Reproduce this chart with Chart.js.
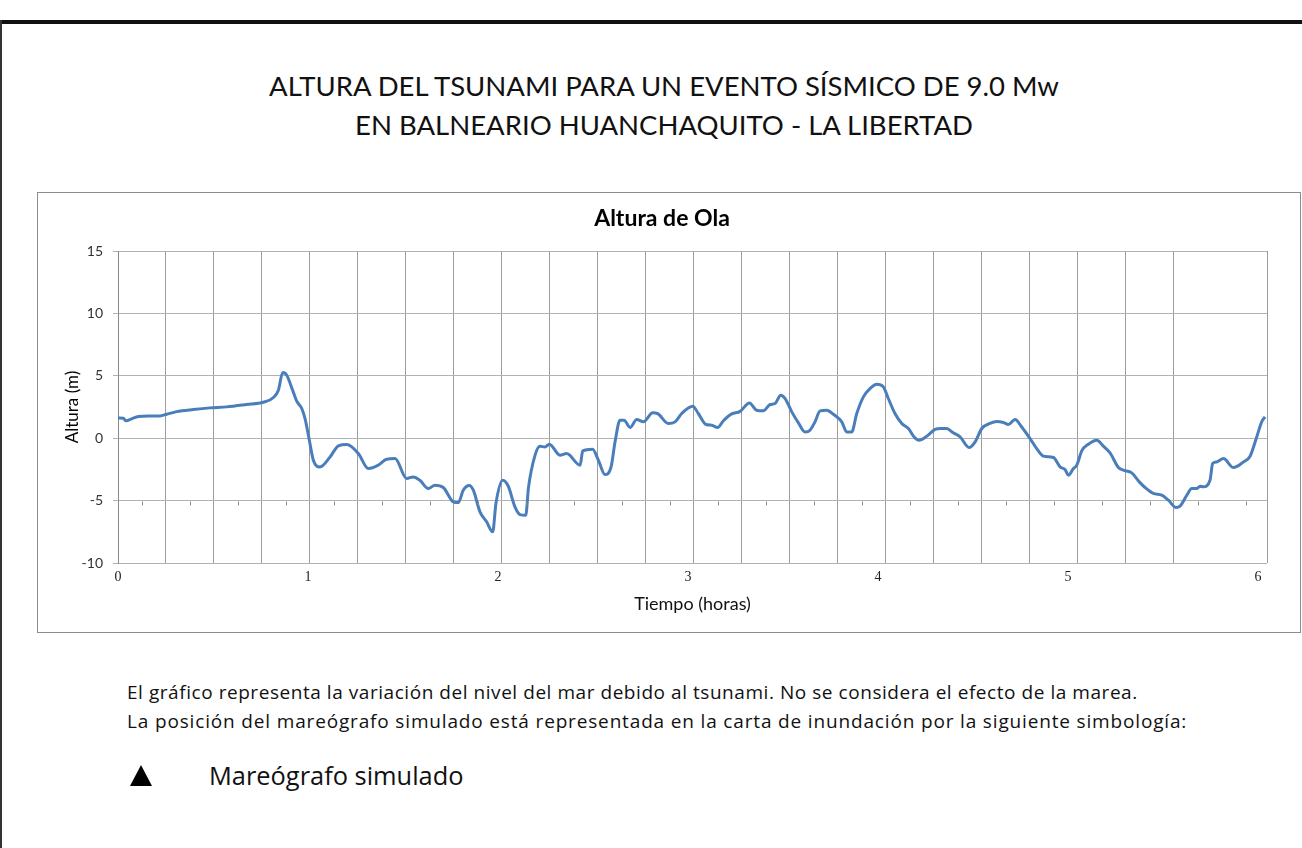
<!DOCTYPE html>
<html lang="es">
<head>
<meta charset="utf-8">
<title>Altura del tsunami - Huanchaquito</title>
<script src="https://cdn.jsdelivr.net/npm/chart.js@4.4.1/dist/chart.umd.min.js"></script>
<style>
    html, body { margin: 0; padding: 0; background: #fff; }
    body { width: 1302px; height: 848px; position: relative; overflow: hidden; font-family: Lato, "Open Sans", sans-serif; }
    .frame-top { position: absolute; left: 0; top: 20px; width: 1302px; height: 4px; background: #111; }
    .frame-left { position: absolute; left: 0; top: 20px; width: 2px; height: 828px; background: #333; }
    .heading { position: absolute; left: 164px; width: 1000px; text-align: center; font-size: 27.5px; color: #111; white-space: nowrap; }
    .chart-box { position: absolute; left: 37px; top: 192px; width: 1262px; height: 439px; border: 1px solid #8c8c8c; }
    .chart-wrap { position: absolute; left: 1px; top: 1px; width: 1246px; height: 437px; }
    .note { position: absolute; left: 127px; font-family: "Open Sans", sans-serif; font-size: 19px; letter-spacing: 0.55px; color: #111; white-space: nowrap; }
    .legend-mark { position: absolute; left: 130px; top: 765px; width: 0; height: 0;
                   border-left: 11px solid transparent; border-right: 11px solid transparent; border-bottom: 21px solid #000; }
    .legend-text { position: absolute; left: 209px; top: 758px; font-family: "Open Sans", sans-serif; font-size: 25.4px; color: #111; }
</style>
</head>
<body>
<div class="frame-top"></div>
<div class="frame-left"></div>

<div class="heading" style="top: 69px;">ALTURA DEL TSUNAMI PARA UN EVENTO SÍSMICO DE 9.0 Mw</div>
<div class="heading" style="top: 108px;">EN BALNEARIO HUANCHAQUITO - LA LIBERTAD</div>

<div class="chart-box">
    <div class="chart-wrap"><canvas id="olaChart"></canvas></div>
</div>

<div class="note" style="top: 679px;">El gráfico representa la variación del nivel del mar debido al tsunami. No se considera el efecto de la marea.</div>
<div class="note" style="top: 708px; letter-spacing: 0.84px;">La posición del mareógrafo simulado está representada en la carta de inundación por la siguiente simbología:</div>

<div class="legend-mark"></div>
<div class="legend-text">Mareógrafo simulado</div>

<script>
// --- Data (time in hours, height in metres) ---
const tiempoHoras = [
    0.000, 0.028, 0.042, 0.072, 0.107, 0.160, 0.221, 0.256, 0.309, 0.397,
    0.484, 0.572, 0.677, 0.765, 0.818, 0.844, 0.867, 0.888, 0.919, 0.940,
    0.967, 0.984, 1.007, 1.028, 1.063, 1.116, 1.160, 1.204, 1.265, 1.317,
    1.370, 1.414, 1.458, 1.519, 1.554, 1.589, 1.633, 1.668, 1.712, 1.765,
    1.791, 1.817, 1.849, 1.870, 1.905, 1.940, 1.972, 1.989, 2.025, 2.054,
    2.089, 2.116, 2.146, 2.160, 2.195, 2.221, 2.247, 2.270, 2.326, 2.361,
    2.432, 2.446, 2.498, 2.528, 2.563, 2.595, 2.616, 2.642, 2.663, 2.695,
    2.730, 2.765, 2.814, 2.839, 2.896, 2.932, 2.967, 3.025, 3.054, 3.095,
    3.125, 3.156, 3.186, 3.230, 3.274, 3.323, 3.361, 3.396, 3.432, 3.458,
    3.488, 3.511, 3.546, 3.581, 3.616, 3.642, 3.668, 3.695, 3.730, 3.765,
    3.809, 3.835, 3.861, 3.888, 3.923, 3.958, 3.993, 4.028, 4.054, 4.089,
    4.125, 4.160, 4.190, 4.215, 4.256, 4.300, 4.330, 4.361, 4.396, 4.432,
    4.479, 4.511, 4.546, 4.589, 4.625, 4.660, 4.686, 4.721, 4.756, 4.800,
    4.835, 4.870, 4.923, 4.958, 4.984, 5.002, 5.028, 5.046, 5.072, 5.107,
    5.151, 5.186, 5.221, 5.265, 5.291, 5.335, 5.375, 5.405, 5.449, 5.493,
    5.528, 5.568, 5.589, 5.625, 5.651, 5.677, 5.695, 5.712, 5.747, 5.761,
    5.782, 5.818, 5.870, 5.923, 5.958, 5.993, 6.019, 6.037
];
const alturaOla = [
    1.63, 1.60, 1.39, 1.55, 1.74, 1.78, 1.78, 1.92, 2.13, 2.30,
    2.43, 2.51, 2.70, 2.88, 3.26, 3.85, 5.26, 5.05, 3.85, 2.99,
    2.38, 1.58, -0.16, -1.76, -2.30, -1.50, -0.61, -0.51, -1.23, -2.43,
    -2.16, -1.68, -1.63, -3.23, -3.10, -3.37, -4.03, -3.77, -3.95, -5.10,
    -5.16, -4.17, -3.79, -4.17, -5.90, -6.70, -7.50, -5.23, -3.37, -3.85,
    -5.50, -6.12, -6.17, -4.00, -1.36, -0.65, -0.70, -0.48, -1.36, -1.23,
    -2.16, -1.02, -0.88, -1.76, -2.91, -2.30, -0.29, 1.44, 1.44, 0.86,
    1.50, 1.31, 2.03, 1.98, 1.18, 1.31, 1.98, 2.56, 1.98, 1.10,
    1.04, 0.86, 1.40, 1.95, 2.15, 2.83, 2.24, 2.19, 2.70, 2.78,
    3.45, 3.18, 2.11, 1.23, 0.50, 0.64, 1.31, 2.19, 2.24, 1.92,
    1.31, 0.50, 0.50, 1.98, 3.31, 3.98, 4.33, 4.11, 3.18, 1.98,
    1.18, 0.78, 0.10, -0.16, 0.15, 0.70, 0.78, 0.78, 0.43, 0.10,
    -0.75, -0.29, 0.78, 1.18, 1.34, 1.26, 1.10, 1.50, 0.90, -0.03,
    -0.83, -1.44, -1.55, -2.30, -2.51, -2.96, -2.43, -2.16, -1.02, -0.48,
    -0.16, -0.64, -1.18, -2.35, -2.56, -2.78, -3.50, -3.95, -4.43, -4.57,
    -4.97, -5.55, -5.45, -4.57, -4.03, -4.03, -3.85, -3.90, -3.37, -2.03,
    -1.90, -1.63, -2.35, -1.90, -1.44, 0.10, 1.31, 1.71
];

// axis ranges / tick labels
const yMin = -10, yMax = 15, yStep = 5;
const xMaxHoras = 6.047;          // right edge of the plot area, in hours
const xEtiquetas = [0, 1, 2, 3, 4, 5, 6];
const gridColumnas = 23.94;       // vertical gridlines drawn every column (24 columns over the plot)

const puntos = tiempoHoras.map((t, i) => ({ x: t, y: alturaOla[i] }));

// small tick marks that sit on the -5 line, between the vertical gridlines
const minorTicksPlugin = {
    id: "minorTicks",
    afterDraw(chart) {
        const xg = chart.scales.xg;
        const y = chart.scales.y;
        const ctx = chart.ctx;
        const py = Math.round(y.getPixelForValue(-5)) + 0.5;
        ctx.save();
        ctx.strokeStyle = "#8a8a8a";
        ctx.lineWidth = 1;
        ctx.beginPath();
        for (let k = 0; k + 0.5 < gridColumnas; k++) {
            const px = Math.round(xg.getPixelForValue(k + 0.5)) + 0.5;
            ctx.moveTo(px, py);
            ctx.lineTo(px, py + 4);
        }
        ctx.stroke();
        ctx.restore();
    }
};

const ctx = document.getElementById("olaChart").getContext("2d");
new Chart(ctx, {
    type: "line",
    data: {
        datasets: [{
            label: "Altura de Ola",
            data: puntos,
            borderColor: "#4a7ebb",
            borderWidth: 3,
            pointRadius: 0,
            fill: false,
            cubicInterpolationMode: "monotone",
            xAxisID: "x",
            yAxisID: "y"
        }]
    },
    options: {
        responsive: true,
        maintainAspectRatio: false,
        animation: false,
        layout: { padding: { left: 18, right: 18, top: 0, bottom: 0 } },
        plugins: {
            legend: { display: false },
            tooltip: { enabled: false },
            title: {
                display: true,
                text: "Altura de Ola",
                color: "#000",
                font: { family: "Lato", size: 23, weight: "bold" },
                padding: { top: 11, bottom: 18.4 }
            }
        },
        scales: {
            x: {
                type: "linear",
                position: "bottom",
                min: 0,
                max: xMaxHoras,
                afterBuildTicks: (scale) => { scale.ticks = xEtiquetas.map(v => ({ value: v })); },
                afterFit: (scale) => { scale.height = 68; },
                grid: { display: false, drawTicks: false },
                border: { display: false },
                ticks: {
                    color: "#222",
                    padding: 6,
                    maxRotation: 0,
                    font: { family: "Liberation Serif", size: 14 }
                },
                title: {
                    display: true,
                    text: "Tiempo (horas)",
                    color: "#111",
                    font: { family: "Lato", size: 18 },
                    padding: { top: 0, bottom: 16 }
                }
            },
            xg: {
                type: "linear",
                position: "bottom",
                min: 0,
                max: gridColumnas,
                afterFit: (scale) => { scale.height = 0; },
                ticks: { display: false, stepSize: 1 },
                grid: { color: "#9c9c9c", lineWidth: 1, drawTicks: false },
                border: { display: false }
            },
            y: {
                min: yMin,
                max: yMax,
                afterFit: (scale) => { scale.width = 61; },
                ticks: {
                    stepSize: yStep,
                    color: "#333",
                    padding: 10,
                    font: { family: "Lato", size: 14 }
                },
                grid: { color: "#b2b2b2", lineWidth: 1, tickLength: 5 },
                border: { display: true, color: "#8a8a8a" },
                title: {
                    display: true,
                    text: "Altura (m)",
                    color: "#000",
                    font: { family: "Lato", size: 17 },
                    padding: { top: 5, bottom: 0 }
                }
            }
        }
    },
    plugins: [minorTicksPlugin]
});
</script>
</body>
</html>
